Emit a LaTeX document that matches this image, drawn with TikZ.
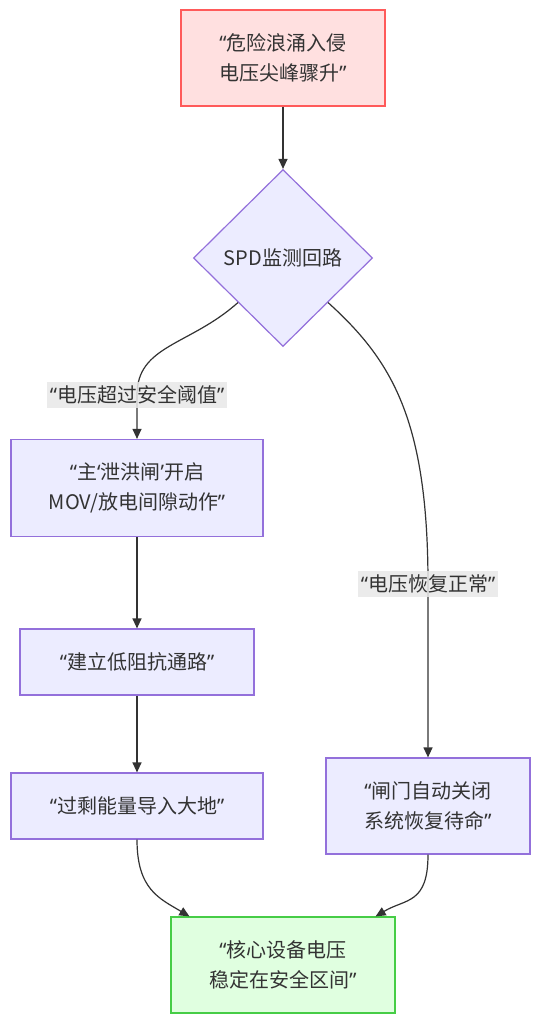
\documentclass[tikz,border=0pt]{standalone}
\usepackage{fontspec}
\usepackage{xcolor}
\usepackage{tikz}
\usetikzlibrary{shapes.geometric,arrows.meta}
\setmainfont{Noto Sans CJK SC}
\newfontfamily\quotefont{Noto Sans}
\newcommand\oq{{\quotefont “}}
\newcommand\cq{{\quotefont ”}}
\newcommand\osq{{\quotefont ‘}}
\newcommand\csq{{\quotefont ’}}
\definecolor{TextGray}{RGB}{51,51,51}
\definecolor{NodeFill}{RGB}{236,236,255}
\definecolor{NodeLine}{RGB}{147,112,219}
\definecolor{AlarmFill}{RGB}{255,224,224}
\definecolor{AlarmLine}{RGB}{255,90,90}
\definecolor{SafeFill}{RGB}{224,255,224}
\definecolor{SafeLine}{RGB}{70,205,70}
\definecolor{LabelFill}{RGB}{232,232,232}

\begin{document}
\begin{tikzpicture}[x=1pt, y=-1pt,
    font=\fontsize{20}{30}\selectfont, text=TextGray,
    box/.style={draw=NodeLine, fill=NodeFill, line width=1.2pt, align=center, inner sep=0pt},
    alarm/.style={box, draw=AlarmLine, fill=AlarmFill},
    safe/.style={box, draw=SafeLine, fill=SafeFill},
    edgelabel/.style={fill=LabelFill, fill opacity=0.85, text opacity=1, inner sep=3pt, minimum height=26pt},
    flow/.style={draw=TextGray, line width=1.2pt, -{Triangle[length=10pt, width=9pt]}}]
  \fill[white] (0,0) rectangle (540,1024);
  \useasboundingbox (0,0) rectangle (540,1024);

  \node[alarm, minimum width=204pt, minimum height=96pt] (surge) at (283,58)
    {\oq 危险浪涌入侵\\电压尖峰骤升\cq};
  \node[box, diamond, aspect=1, minimum width=179pt, minimum height=177pt] (spd) at (283,258)
    {SPD监测回路};
  \node[box, minimum width=252pt, minimum height=97pt] (open) at (137,488)
    {\oq 主\osq 泄洪闸\csq 开启\\MOV/放电间隙动作\cq};
  \node[box, minimum width=234pt, minimum height=66pt] (path) at (137,662)
    {\oq 建立低阻抗通路\cq};
  \node[box, minimum width=252pt, minimum height=66pt] (ground) at (137,806)
    {\oq 过剩能量导入大地\cq};
  \node[box, minimum width=204pt, minimum height=96pt] (close) at (428,806)
    {\oq 闸门自动关闭\\系统恢复待命\cq};
  \node[safe, minimum width=224pt, minimum height=96pt] (stable) at (283,965)
    {\oq 核心设备电压\\稳定在安全区间\cq};

  \coordinate (over) at (137,395);
  \coordinate (back) at (428,584);

  \draw[flow] (surge) -- (spd);
  \draw[flow] (spd.south west) .. controls +(-48,43) and +(0,-50) .. (over) -- (open.north);
  \draw[flow] (spd.south east) .. controls +(64,58) and +(0,-164) .. (back) -- (close.north);
  \draw[flow] (open) -- (path);
  \draw[flow] (path) -- (ground);
  \draw[flow] (ground.south) .. controls +(0,50) and +(-30,-18) .. ([xshift=19pt]stable.north west);
  \draw[flow] (close.south) .. controls +(0,50) and +(30,-18) .. ([xshift=-20pt]stable.north east);

  \node[edgelabel] (overlabel) at (over) {\oq 电压超过安全阈值\cq};
  \node[edgelabel] (backlabel) at (back) {\oq 电压恢复正常\cq};
\end{tikzpicture}
\end{document}
